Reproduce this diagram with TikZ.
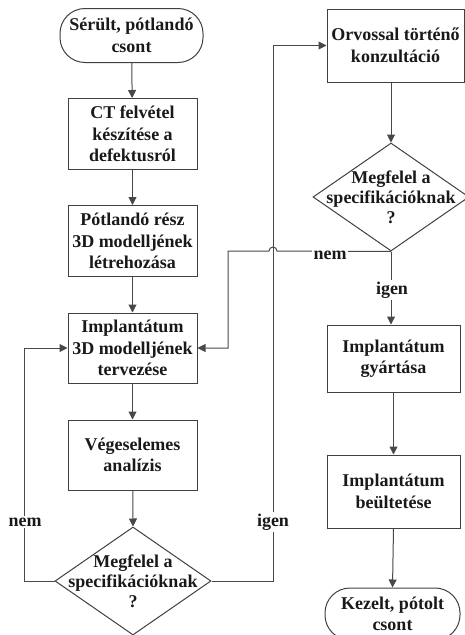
\documentclass[tikz,border=0pt]{standalone}
\usepackage{fontspec}
\setmainfont{Liberation Serif}
\usetikzlibrary{arrows.meta,shapes.geometric}
\definecolor{edge}{HTML}{404040}
\definecolor{conn}{HTML}{484848}
\begin{document}
\begin{tikzpicture}[x=1pt,y=-1pt,
  every node/.style={font=\bfseries\fontsize{18}{21.5}\selectfont, align=center, inner sep=0pt, text=black!90},
  procbox/.style={draw=edge, line width=1pt, rectangle, minimum width=129pt, minimum height=71pt},
  termbox/.style={draw=edge, line width=1pt, rectangle, rounded corners=25pt},
  diabox/.style={draw=edge, line width=1pt, diamond, minimum width=156pt, minimum height=108pt},
  diatext/.style={font=\bfseries\fontsize{18}{20}\selectfont},
  conn/.style={draw=conn, line width=1pt},
  arr/.style={conn, -{Triangle[length=8pt,width=8pt]}},
  lbl/.style={fill=white, inner sep=1.5pt}
]
\useasboundingbox (0,0) rectangle (465,635);

% left column
\node[termbox, minimum width=143pt, minimum height=54pt] (start) at (131.5,35.5) {Sérült, pótlandó\\csont};
\node[procbox] (ct) at (132.5,134) {CT felvétel\\készítése a\\defektusról};
\node[procbox] (pot) at (132.5,241) {Pótlandó rész\\3D modelljének\\létrehozása};
\node[procbox, minimum height=70pt] (impl) at (132.5,348) {Implantátum\\3D modelljének\\tervezése};
\node[procbox, minimum height=70pt] (veg) at (132.5,455) {Végeselemes\\analízis};
\node[diabox] (d1) at (133,581) {};
\node[diatext] (d1t) at (133,581) {Megfelel a\\specifikációknak\\?};

% right column
\node[procbox, minimum width=137pt, minimum height=73pt] (orv) at (395.5,45.5) {Orvossal történő\\konzultáció};
\node[diabox] (d2) at (391,197) {};
\node[diatext] (d2t) at (391,197) {Megfelel a\\specifikációknak\\?};
\node[procbox, minimum width=133pt, minimum height=67pt] (gyar) at (393.5,358.5) {Implantátum\\gyártása};
\node[procbox, minimum width=133pt, minimum height=73pt] (beul) at (393.5,491.5) {Implantátum\\beültetése};
\node[termbox, minimum width=135pt, minimum height=52pt] (end) at (392.5,614) {Kezelt, pótolt\\csont};

\coordinate (lx) at (24,581);
\coordinate (rx) at (273,581);
\coordinate (hopR) at (277,251);
\coordinate (nx) at (228,251);

% left column arrows
\draw[arr] (start) -- (ct);
\draw[arr] (ct) -- (pot);
\draw[arr] (pot) -- (impl);
\draw[arr] (impl) -- (veg);
\draw[arr] (veg) -- (d1.north);

% nem loop left
\draw[arr] (d1.west) -- (lx) |- (impl.west);
\node[lbl] (nem1) at (25,522) {nem};

% igen to orvos
\draw[arr] (d1.east) -- (rx) |- (orv.west);
\node[lbl] (igen1) at (273,522) {igen};

% right column
\draw[arr] (d2.north |- orv.south) -- (d2.north);
\draw[arr] (d2.south) -- (hopR) arc[start angle=0, end angle=-180, radius=4] -- (nx) |- (impl.east);
\node[lbl] (nem2) at (330,255) {nem};
\draw[arr] (d2.south) -- (d2.south |- gyar.north);
\node[lbl] (igen2) at (392,290) {igen};
\draw[arr] (beul.north |- gyar.south) -- (beul.north);
\draw[arr] (beul.south) -- (end.north);
\end{tikzpicture}
\end{document}
